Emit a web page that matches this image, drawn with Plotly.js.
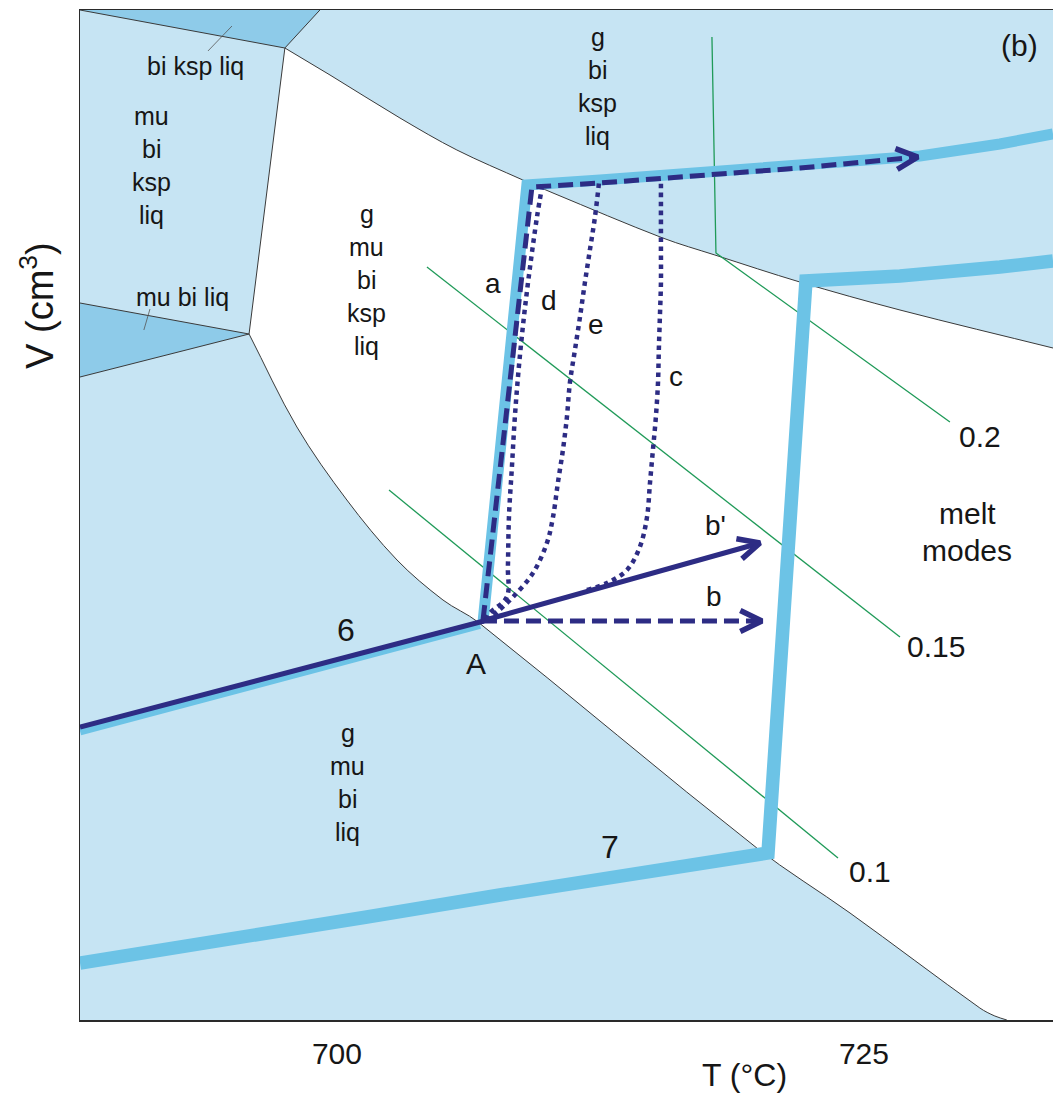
<!DOCTYPE html>
<html><head><meta charset="utf-8">
<script src="https://cdn.plot.ly/plotly-3.0.1.min.js"></script>
<style>html,body{margin:0;padding:0;background:#fff}#chart{width:1053px;height:1095px}</style>
</head><body><div id="chart"></div>
<script>
// ---- axis ranges / ticks ----
const T_MIN = 687.81, T_MAX = 733.97;
const V_MIN = 0, V_MAX = 101;
const tickVals = [700, 725];
const tickText = ['700', '725'];

// ---- field boundaries (T in °C, V in arbitrary volume units) ----
const upperT = [697.53, 699.67, 702.99, 705.69, 708.82, 710.25, 715.46, 717.93, 721.96, 726.71, 733.97];
const upperV = [97.2, 94.5, 90.2, 87.0, 84.0, 82.7, 78.2, 76.5, 73.8, 71.0, 67.2];
const lowerT = [695.83, 698.10, 700.47, 702.85, 705.03, 706.69, 719.92, 724.34, 730.50, 731.21, 731.78];
const lowerV = [68.6, 59.3, 52.0, 46.0, 42.0, 39.8, 17.2, 10.7, 1.2, 0.4, 0.0];
const leftBoundT = [699.19, 697.53, 695.83];
const leftBoundV = [101.0, 97.2, 68.6];
const wedgeTopT = [687.81, 699.19, 697.53];
const wedgeTopV = [101.0, 101.0, 97.2];
const wedgeLeftT = [687.81, 695.83, 687.81];
const wedgeLeftV = [71.7, 68.6, 64.3];
const leaderTopT = [695.02, 693.88];
const leaderTopV = [99.4, 96.9];
const leaderLeftT = [691.13, 690.84];
const leaderLeftV = [71.1, 69.0];

// ---- melt-fraction isopleths ----
const iso02T = [717.79, 717.98, 729.08];
const iso02V = [98.3, 76.7, 59.8];
const iso015T = [704.27, 726.71];
const iso015V = [75.3, 38.3];
const iso01T = [702.47, 723.77];
const iso01V = [53.0, 16.2];

// ---- thick light-blue paths ----
const path6T = [687.81, 706.78];
const path6V = [28.9, 39.55];
const pathAT = [706.93, 709.01, 712.48, 717.22, 721.96, 727.66, 731.45, 733.97];
const pathAV = [39.8, 83.5, 84.0, 84.7, 85.4, 86.4, 87.6, 88.6];
const path7T = [687.81, 695.07, 701.42, 707.73, 712.48, 720.45, 722.25, 724.34, 726.71, 731.45, 733.97];
const path7V = [5.7, 8.0, 10.3, 12.5, 14.0, 16.7, 73.9, 74.0, 74.4, 75.3, 75.9];

// ---- navy paths ----
const nav6T = [687.81, 706.97];
const nav6V = [29.3, 39.9];
const bPrimeT = [706.88, 720.07];
const bPrimeV = [39.9, 47.7];
const bT = [706.88, 720.16];
const bV = [39.9, 39.9];
const aT = [706.93, 709.25, 712.48, 717.22, 721.96, 727.56];
const aV = [40.0, 83.3, 83.7, 84.5, 85.2, 86.3];
const dT = [707.07, 707.26, 708.06, 708.11, 708.16, 708.30, 708.44, 708.63, 708.87, 709.16, 709.49, 709.72];
const dV = [40.0, 40.7, 42.3, 45.3, 50.3, 55.3, 60.3, 65.3, 70.3, 75.3, 80.3, 83.2];
const eT = [707.07, 707.59, 708.35, 709.30, 709.96, 710.25, 710.48, 710.72, 710.91, 711.05, 711.29, 711.53, 711.76, 712.00, 712.24, 712.43];
const eV = [40.0, 40.8, 42.3, 44.7, 47.7, 50.3, 53.7, 57.0, 60.3, 63.7, 67.0, 70.3, 73.7, 77.0, 80.3, 83.7];
const cT = [711.86, 712.81, 713.76, 714.37, 714.71, 714.85, 714.99, 715.13, 715.23, 715.27, 715.32, 715.37, 715.37, 715.37, 715.37];
const cV = [43.0, 43.7, 45.0, 47.3, 50.3, 53.7, 57.0, 60.3, 63.7, 67.0, 70.3, 73.7, 77.0, 80.3, 83.8];

// ---- styling ----
const FONT = 'Liberation Sans, Arial, Helvetica, sans-serif';
const TXT = '#161616';
const BG = '#c6e4f3', WEDGE = '#8ecbe9', BAND = '#6cc3e6', NAVY = '#2d2c84', GREEN = '#1f9a58', EDGE = '#3a3a3a';
const W = 1053, H = 1095, M = {l: 80, r: 0, t: 10, b: 75};
const PX_T = (W - M.l - M.r) / (T_MAX - T_MIN);
const PX_V = (H - M.t - M.b) / (V_MAX - V_MIN);

function line(x, y, color, width, dash, shape) {
  return {x: x, y: y, type: 'scatter', mode: 'lines', hoverinfo: 'skip',
          line: {color: color, width: width, dash: dash || 'solid', shape: shape || 'linear', smoothing: 1}};
}
function poly(x, y, color) {
  return {x: x, y: y, type: 'scatter', mode: 'lines', fill: 'toself', fillcolor: color,
          hoverinfo: 'skip', line: {width: 0, color: color}};
}
// open arrow head built from the last segment of a path
function chevron(xs, ys, len, half) {
  const n = xs.length, tx = xs[n - 1], tv = ys[n - 1];
  const dx = (tx - xs[n - 2]) * PX_T, dy = (tv - ys[n - 2]) * PX_V;
  const L = Math.hypot(dx, dy), ux = dx / L, uy = dy / L;
  const p = [];
  [1, -1].forEach(function (s) {
    const a = s * half;
    const bx = -(ux * Math.cos(a) - uy * Math.sin(a)) * len;
    const by = -(ux * Math.sin(a) + uy * Math.cos(a)) * len;
    p.push([tx + bx / PX_T, tv + by / PX_V]);
  });
  return line([p[0][0], tx, p[1][0]], [p[0][1], tv, p[1][1]], NAVY, 5.5);
}
// smooth curve (cubic Bezier through the points) as a data-coordinate SVG path
function smoothPath(xs, ys, withMove) {
  const n = xs.length;
  const px = xs.map(function (v) { return v * PX_T; });
  const py = ys.map(function (v) { return v * PX_V; });
  function tan(i) {
    const a = Math.max(i - 1, 0), b = Math.min(i + 1, n - 1);
    const dx = px[b] - px[a], dy = py[b] - py[a], L = Math.hypot(dx, dy) || 1;
    return [dx / L, dy / L];
  }
  const f = function (v) { return v.toFixed(4); };
  let s = withMove ? 'M' + f(xs[0]) + ',' + f(ys[0]) : '';
  for (let i = 0; i < n - 1; i++) {
    const d = Math.hypot(px[i + 1] - px[i], py[i + 1] - py[i]) / 3;
    const t1 = tan(i), t2 = tan(i + 1);
    const c1x = (px[i] + t1[0] * d) / PX_T, c1y = (py[i] + t1[1] * d) / PX_V;
    const c2x = (px[i + 1] - t2[0] * d) / PX_T, c2y = (py[i + 1] - t2[1] * d) / PX_V;
    s += ' C' + f(c1x) + ',' + f(c1y) + ' ' + f(c2x) + ',' + f(c2y) + ' ' + f(xs[i + 1]) + ',' + f(ys[i + 1]);
  }
  return s;
}

// white melt field, bounded by the two smooth boundaries
const lowerRevT = lowerT.slice().reverse(), lowerRevV = lowerV.slice().reverse();
const whitePath = smoothPath(upperT, upperV, true) +
  ' L' + T_MAX + ',' + upperV[upperV.length - 1] + ' L' + T_MAX + ',' + V_MIN +
  ' L' + lowerRevT[0] + ',' + lowerRevV[0] + smoothPath(lowerRevT, lowerRevV, false) + ' Z';
const shapes = [
  {type: 'path', xref: 'x', yref: 'y', layer: 'below', path: whitePath, fillcolor: '#ffffff', line: {width: 0}},
  {type: 'path', xref: 'x', yref: 'y', layer: 'below', path: smoothPath(upperT, upperV, true),
   fillcolor: 'rgba(0,0,0,0)', line: {color: EDGE, width: 1}},
  {type: 'path', xref: 'x', yref: 'y', layer: 'below', path: smoothPath(lowerT, lowerV, true),
   fillcolor: 'rgba(0,0,0,0)', line: {color: EDGE, width: 1}}
];

const DASH = '15px,7px', DOT = '4.5px,4.5px';
const traces = [
  poly(wedgeTopT, wedgeTopV, WEDGE),
  poly(wedgeLeftT, wedgeLeftV, WEDGE),
  line(leftBoundT, leftBoundV, EDGE, 1),
  line([wedgeTopT[0], wedgeTopT[2]], [wedgeTopV[0], wedgeTopV[2]], EDGE, 1),
  line(wedgeLeftT, wedgeLeftV, EDGE, 1),
  line(leaderTopT, leaderTopV, '#555555', 0.8),
  line(leaderLeftT, leaderLeftV, '#555555', 0.8),
  line(iso02T, iso02V, GREEN, 1.3),
  line(iso015T, iso015V, GREEN, 1.3),
  line(iso01T, iso01V, GREEN, 1.3),
  line(path6T, path6V, BAND, 9),
  line(pathAT, pathAV, BAND, 11),
  line(path7T, path7V, BAND, 13.5),
  line(nav6T, nav6V, NAVY, 5),
  line(bPrimeT, bPrimeV, NAVY, 5),
  line(bT, bV, NAVY, 5, DASH),
  line(aT, aV, NAVY, 5, DASH),
  line(dT, dV, NAVY, 4.5, DOT, 'spline'),
  line(eT, eV, NAVY, 4.5, DOT, 'spline'),
  line(cT, cV, NAVY, 4.5, DOT, 'spline'),
  chevron(bPrimeT, bPrimeV, 24, 0.45),
  chevron(bT, bV, 24, 0.45),
  chevron(aT, aV, 24, 0.45)
];

// ---- text ----
const annotations = [];
function label(text, x, y, size, extra) {
  const a = {x: x, y: y, xref: 'x', yref: 'y', text: text, showarrow: false,
             xanchor: 'center', yanchor: 'middle', font: {family: FONT, size: size, color: TXT}};
  Object.assign(a, extra || {});
  annotations.push(a);
}
function stack(lines, x, y, size, spacing) {
  const n = lines.length;
  lines.forEach(function (t, i) {
    label(t, x, y, size, {yshift: ((n - 1) / 2 - i) * spacing});
  });
}
stack(['mu', 'bi', 'ksp', 'liq'], 691.22, 85.5, 25, 33);
stack(['g', 'mu', 'bi', 'ksp', 'liq'], 701.42, 74.0, 25, 33);
stack(['g', 'bi', 'ksp', 'liq'], 712.38, 93.4, 25, 33);
stack(['g', 'mu', 'bi', 'liq'], 700.52, 23.8, 25, 33);
stack(['melt', 'modes'], 729.89, 48.85, 30, 37);
label('bi ksp liq', 693.31, 95.4, 25);
label('mu bi liq', 692.69, 72.3, 25);
label('(b)', 732.40, 97.5, 30);
label('a', 707.40, 73.7, 28);
label('d', 710.06, 72.0, 28);
label('e', 712.29, 69.6, 28);
label('c', 716.08, 64.4, 28);
label("b'", 717.98, 49.5, 28);
label('b', 717.88, 42.4, 28);
label('6', 700.43, 39.0, 32);
label('A', 706.59, 35.7, 30);
label('7', 712.95, 17.3, 32);
label('0.2', 730.50, 58.4, 30);
label('0.15', 728.42, 37.4, 30);
label('0.1', 725.28, 14.9, 30);
annotations.push({x: 719.35, y: -0.0545, xref: 'x', yref: 'paper', text: 'T (°C)', showarrow: false,
  xanchor: 'center', yanchor: 'middle', font: {family: FONT, size: 32, color: TXT}});
annotations.push({x: -0.0442, y: 0.708, xref: 'paper', yref: 'paper', text: 'V (cm<sup>3</sup>)', showarrow: false,
  textangle: -90, xanchor: 'center', yanchor: 'middle', font: {family: FONT, size: 38, color: TXT}});

const layout = {
  width: W, height: H, margin: {l: M.l, r: M.r, t: M.t, b: M.b, pad: 0},
  paper_bgcolor: '#ffffff', plot_bgcolor: BG, showlegend: false,
  xaxis: {range: [T_MIN, T_MAX], showgrid: false, zeroline: false, showline: true, mirror: true,
          linecolor: '#2a2a2a', linewidth: 1.5, ticks: '', tickvals: tickVals, ticktext: tickText,
          tickfont: {family: FONT, size: 30, color: TXT}, ticklabelstandoff: 6, fixedrange: true},
  yaxis: {range: [V_MIN, V_MAX], showgrid: false, zeroline: false, showline: true,
          linecolor: '#2a2a2a', linewidth: 1.5, ticks: '', showticklabels: false, fixedrange: true},
  shapes: shapes,
  annotations: annotations
};
Plotly.newPlot('chart', traces, layout, {displayModeBar: false, staticPlot: true});
</script></body></html>
